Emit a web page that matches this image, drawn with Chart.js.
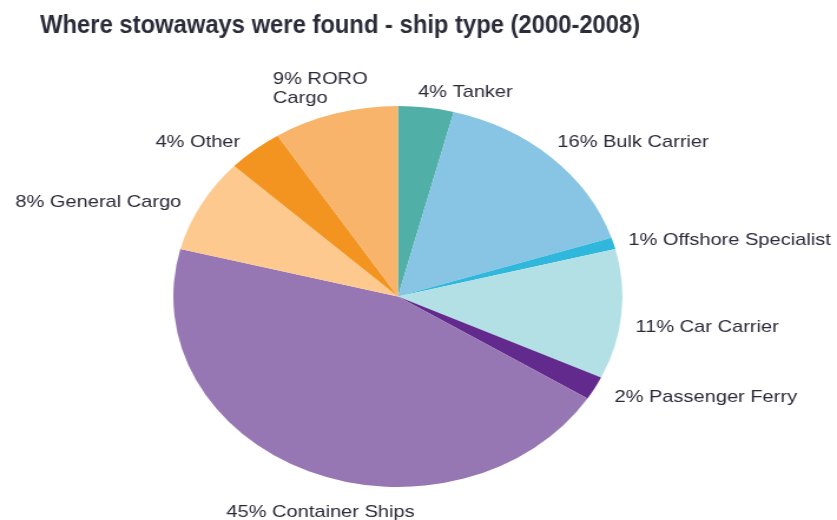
<!DOCTYPE html>
<html lang="en">
<head>
    <meta charset="UTF-8">
    <title>Where stowaways were found - ship type (2000-2008)</title>
    <script src="https://cdn.jsdelivr.net/npm/chart.js"></script>
    <style>
        html, body { margin: 0; padding: 0; background: #fff; }
        /* the chart is drawn 710 wide and shown 837 wide, so the pie is an ellipse */
        #stowawayPie { display: block; width: 837px; height: 520px; }
    </style>
</head>
<body>

<canvas id="stowawayPie" width="710" height="520" style="width:837px;height:520px"></canvas>

<script>
    // Share of stowaways by ship type, clockwise from the top
    const shipTypes = ['Tanker', 'Bulk Carrier', 'Offshore Specialist', 'Car Carrier', 'Passenger Ferry',
        'Container Ships', 'General Cargo', 'Other', 'RORO Cargo'];
    const shares = [4, 16, 1, 11, 2, 45, 8, 4, 9];
    // label text, one entry per line
    const labelLines = [
        ['4% Tanker'], ['16% Bulk Carrier'], ['1% Offshore Specialist'], ['11% Car Carrier'],
        ['2% Passenger Ferry'], ['45% Container Ships'], ['8% General Cargo'], ['4% Other'],
        ['9% RORO', 'Cargo']
    ];

    const sliceColors = ['#50b0a7', '#88c4e3', '#2fb7dc', '#b3e0e5', '#632a8d',
        '#9677b3', '#fdc98f', '#f39421', '#f8b46a'];

    // where each label sits relative to the point just outside its slice
    const labelPlacement = [
        { align: 'left', dx: -8, dy: -5 },
        { align: 'left', dx: -2, dy: -8 },
        { align: 'left', dx: 3, dy: 0 },
        { align: 'left', dx: 2, dy: 12 },
        { align: 'left', dx: 8, dy: 4 },
        { align: 'center', dx: 14, dy: 32 },
        { align: 'right', dx: -8, dy: 2 },
        { align: 'right', dx: -6, dy: 0 },
        { align: 'left', dx: -50, dy: -15 }
    ];

    const textColor = '#2b2b3a';
    const titleText = 'Where stowaways were found - ship type (2000-2008)';

    const sliceLabels = {
        id: 'sliceLabels',
        afterDraw(chart) {
            const ctx = chart.ctx;
            const arcs = chart.getDatasetMeta(0).data;
            ctx.save();

            // title, squeezed into a condensed bold face
            ctx.fillStyle = textColor;
            ctx.font = 'bold 26px "Liberation Sans", Arial, sans-serif';
            ctx.textAlign = 'left';
            ctx.textBaseline = 'alphabetic';
            const squeeze = 509 / ctx.measureText(titleText).width;
            ctx.save();
            ctx.translate(34, 33);
            ctx.scale(squeeze, 1);
            ctx.fillText(titleText, 0, 0);
            ctx.restore();

            ctx.font = '17px "Liberation Sans", Arial, sans-serif';
            ctx.textBaseline = 'middle';
            arcs.forEach((arc, i) => {
                const mid = (arc.startAngle + arc.endAngle) / 2;
                const r = arc.outerRadius + 10;
                const p = labelPlacement[i];
                const x = arc.x + Math.cos(mid) * r + p.dx;
                const y = arc.y + Math.sin(mid) * r + p.dy;
                const lines = labelLines[i];
                const lineH = 18.5;
                ctx.textAlign = p.align;
                lines.forEach((line, j) => {
                    ctx.fillText(line, x, y + (j - (lines.length - 1) / 2) * lineH);
                });
            });
            ctx.restore();
        }
    };

    const ctx = document.getElementById('stowawayPie').getContext('2d');
    new Chart(ctx, {
        type: 'pie',
        data: {
            labels: shipTypes,
            datasets: [{
                data: shares,
                backgroundColor: sliceColors,
                borderWidth: 0
            }]
        },
        options: {
            responsive: false,
            animation: false,
            layout: { padding: { left: 147, right: 182, top: 106, bottom: 33 } },
            plugins: {
                legend: { display: false },
                tooltip: { enabled: false },
                title: { display: false }
            }
        },
        plugins: [sliceLabels]
    });
</script>

</body>
</html>
